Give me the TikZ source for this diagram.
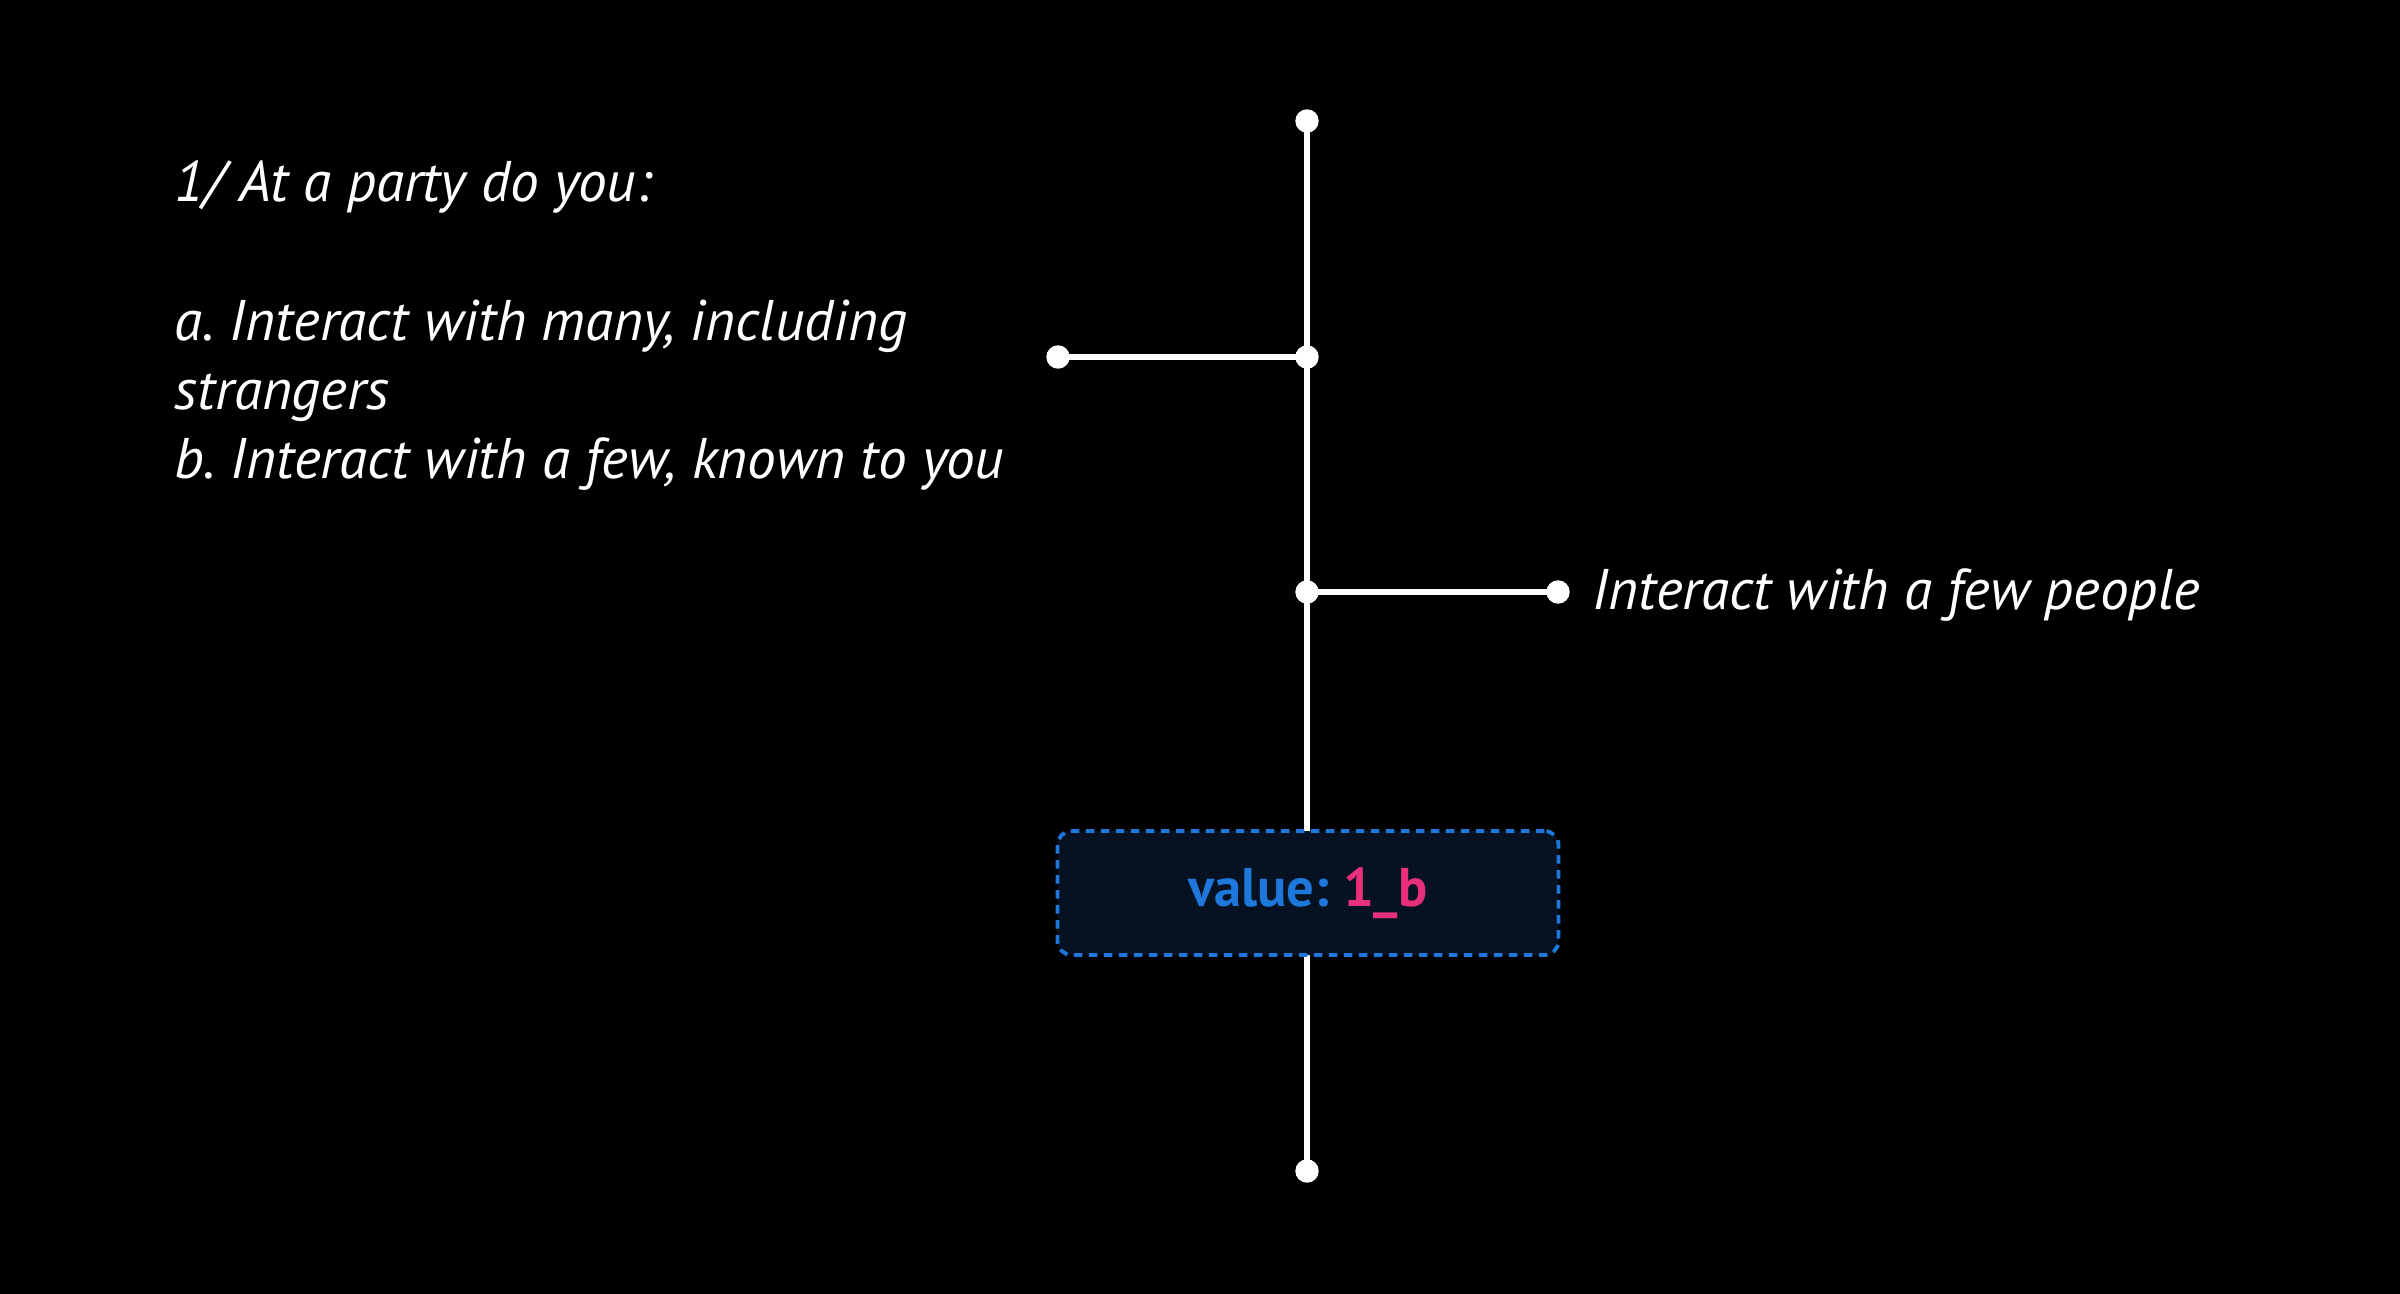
\documentclass[tikz,border=0pt]{standalone}
\usepackage{fontspec}
\setmainfont{PT Sans}
\usetikzlibrary{calc}
\definecolor{boxfill}{HTML}{061222}
\definecolor{boxblue}{HTML}{1E78DC}
\definecolor{valpink}{HTML}{E8307A}
\frenchspacing

\begin{document}
\begin{tikzpicture}[y=-1cm,
	wire/.style={white,line width=1.5pt},
	dot/.style={fill=white},
	label/.style={white,font=\fontsize{16.3}{19.76}\selectfont\itshape,inner sep=0pt},
	valuebox/.style={draw=boxblue,fill=boxfill,dash pattern=on .085cm off .065cm,line width=1.1pt,rounded corners=4pt,minimum width=5.01cm,minimum height=1.24cm}]
			\useasboundingbox (0,0) rectangle (24,12.94);
			\fill[black] (0,0) rectangle (24,12.94);
			\path
			(13.07,1.21) coordinate (T)
			(10.58,3.57) coordinate (A)
			(13.07,3.57) coordinate (J)
			(13.07,5.92) coordinate (K)
			(15.58,5.92) coordinate (B)
			(13.07,11.71) coordinate (E)
			;
			\draw[wire] (T) -- (E);
			\draw[wire] (A) -- (J);
			\draw[wire] (K) -- (B);
			\node[valuebox] (V) at (13.08,8.93) {\fontsize{15.5}{18}\selectfont\bfseries\color{boxblue}value: \color{valpink}1\_b};
			\foreach \x in {T,A,J,K,B,E} \draw[dot,white] (\x) circle (.11);
			\node[label,align=left,anchor=base west] (Q) at (1.74,4.79) {1/ At a party do you:\\ ~\\ a. Interact with many, including\\ strangers\\ b. Interact with a few, known to you};
			\node[label,anchor=base west] (R) at (15.92,6.09) {Interact with a few people};
		\end{tikzpicture}
\end{document}
